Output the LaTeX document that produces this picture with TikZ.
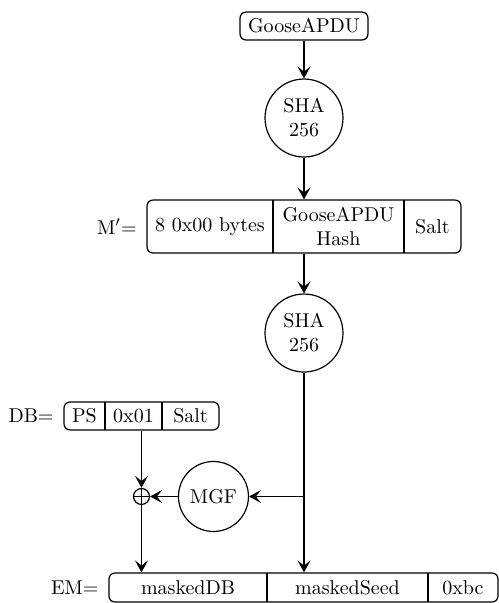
\documentclass[tikz,border=0pt]{standalone}
\usetikzlibrary{arrows.meta,positioning}

\tikzset{
	record/.style={draw, rounded corners=3pt, inner sep=0pt},
	hashbox/.style={draw, circle, align=center, inner sep=1pt, minimum size=39pt},
	xorbox/.style={draw, circle, inner sep=0pt, minimum size=8pt,
		path picture={\draw (path picture bounding box.north) -- (path picture bounding box.south)
			(path picture bounding box.west) -- (path picture bounding box.east);}},
	label/.style={inner sep=3.33pt},
	flow/.style={-{Stealth[length=6pt, width=6.5pt, inset=2.6pt]}}
}

\begin{document}
\begin{tikzpicture}[semithick]
		\useasboundingbox (0, 0) rectangle (8.770, 10.598);
		
		\node[record, inner xsep=4pt, minimum height=14pt] (goose) at (5.343, 10.141) {GooseAPDU};
		\node[hashbox] (sha1) at (5.343, 8.524) {SHA\\256};
		
		% M' = padding, hash, salt
		\node[record, minimum width=5.518cm, minimum height=0.931cm] (mp) at (5.343, 6.617) {};
		\draw (4.798, 6.152) -- (4.798, 7.083);
		\draw (7.100, 6.152) -- (7.100, 7.083);
		\node (mpzero) at (3.691, 6.617) {8 0x00 bytes};
		\node[align=center] (mphash) at (5.949, 6.617) {GooseAPDU\\Hash};
		\node (mpsalt) at (7.601, 6.617) {Salt};
		\node[label, left=1.3pt of mp] (mplabel) {M$'$=};
		
		\node[hashbox] (sha2) at (5.343, 4.745) {SHA\\256};
		
		% DB = PS, 0x01, salt
		\node[record, minimum width=2.724cm, minimum height=0.492cm] (db) at (2.487, 3.287) {};
		\draw (1.845, 3.041) -- (1.845, 3.533);
		\draw (2.847, 3.041) -- (2.847, 3.533);
		\node (dbps) at (1.485, 3.287) {PS};
		\node (dbone) at (2.346, 3.287) {0x01};
		\node (dbsalt) at (3.348, 3.287) {Salt};
		\node[label, left=1.3pt of db] (dblabel) {DB=};
		
		\node[xorbox] (xor) at (2.487, 1.872) {};
		\node[draw, circle, inner sep=1pt, minimum size=35pt] (mgf) at (3.752, 1.872) {MGF};
		
		% EM = maskedDB, maskedSeed, 0xbc
		\node[record, minimum width=6.837cm, minimum height=0.510cm] (em) at (5.334, 0.272) {};
		\draw (4.693, 0.017) -- (4.693, 0.527);
		\draw (7.522, 0.017) -- (7.522, 0.527);
		\node (emdb) at (3.304, 0.272) {maskedDB};
		\node (emseed) at (6.107, 0.272) {maskedSeed};
		\node (embc) at (8.137, 0.272) {0xbc};
		\node[label, left=1.3pt of em] (emlabel) {EM=};
		
		\coordinate (split) at (sha2 |- mgf);
		
		\draw[flow] (goose) -- (sha1);
		\draw[flow] (sha1) -- (mp);
		\draw[flow] (mp) -- (sha2);
		\draw[flow] (sha2) -- (sha2 |- em.north);
		\draw[flow] (split) -- (mgf);
		\draw[flow] (mgf) -- (xor);
		\draw[flow] (db) -- (xor);
		\draw[flow] (xor) -- (xor |- em.north);
	\end{tikzpicture}
\end{document}
